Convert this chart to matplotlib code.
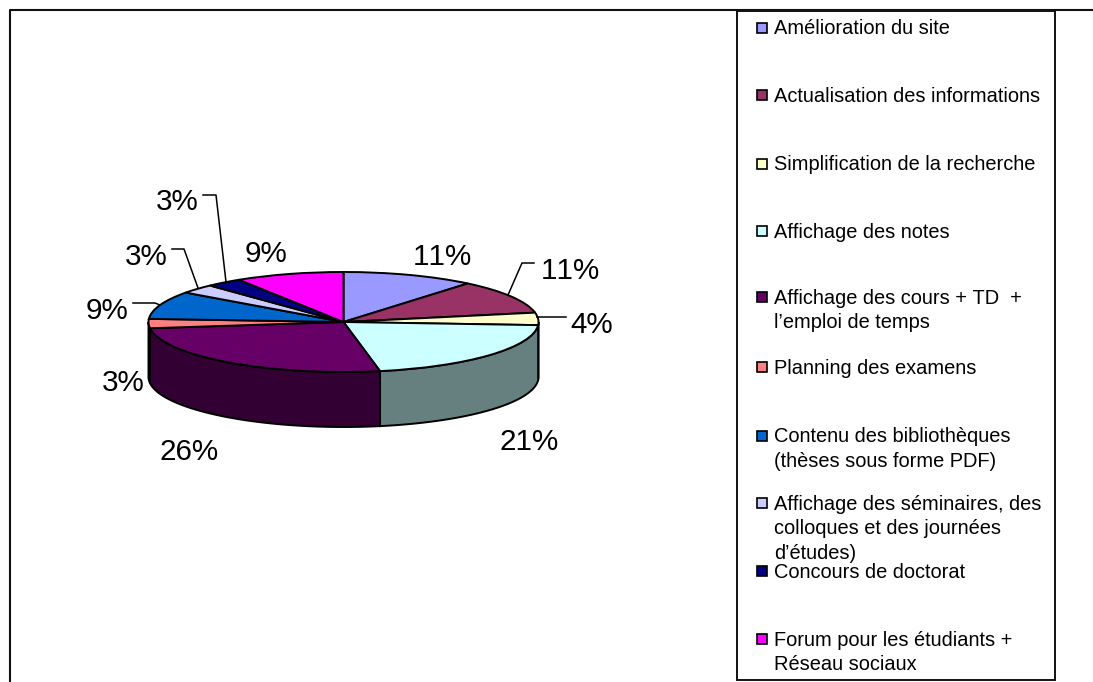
import numpy as np
import matplotlib
matplotlib.use('Agg')
import matplotlib.pyplot as plt
from matplotlib.patches import Rectangle

plt.rcParams['font.family'] = ['Liberation Sans', 'DejaVu Sans']
plt.rcParams['text.kerning_factor'] = 6

categories = [
    'Amélioration du site',
    'Actualisation des informations',
    'Simplification de la recherche',
    'Affichage des notes',
    'Affichage des cours + TD  +\nl’emploi de temps',
    'Planning des examens',
    'Contenu des bibliothèques\n(thèses sous forme PDF)',
    'Affichage des séminaires, des\ncolloques et des journées\nd’études)',
    'Concours de doctorat',
    'Forum pour les étudiants +\nRéseau sociaux',
]
values = [11, 11, 4, 21, 26, 3, 9, 3, 3, 9]
colors = ['#9999FF', '#993366', '#FFFFCC', '#CCFFFF', '#660066',
          '#FF8080', '#0066CC', '#CCCCFF', '#000080', '#FF00FF']

W, H = 1093, 682

# pixel positions of the pie top ellipse
left, right, top, bottom = 148.5, 538.5, 272, 372
depth = 55 / ((bottom - top) / 2)

fig = plt.figure(figsize=(W / 100, H / 100), dpi=100, facecolor='white')

ax = fig.add_axes([left / W, 1 - bottom / H, (right - left) / W, (bottom - top) / H])
wedges, _ = ax.pie(values, colors=colors, startangle=90, counterclock=False,
                   wedgeprops=dict(edgecolor='black', linewidth=1.4, clip_on=False))
ax.set_aspect('auto')
ax.set_xlim(-1, 1)
ax.set_ylim(-1, 1)
ax.axis('off')

# side wall of the pie, only the front half shows
for w, c in zip(wedges, colors):
    t = np.radians(np.linspace(w.theta1, w.theta2, 200))
    t = t[np.sin(t) <= 0]
    if len(t) < 2:
        continue
    xs = np.cos(t)
    ys = np.sin(t)
    rgb = np.array(matplotlib.colors.to_rgb(c)) * 0.5
    ax.fill(np.r_[xs, xs[::-1]], np.r_[ys, ys[::-1] - depth], facecolor=rgb,
            edgecolor='black', linewidth=1.4, clip_on=False, zorder=0.5)

# overlay in image pixels for frame, labels and legend
ov = fig.add_axes([0, 0, 1, 1], facecolor='none')
ov.set_xlim(0, W)
ov.set_ylim(H, 0)
ov.axis('off')

ov.plot([9.5, 9.5, W], [H, 10, 10], color='#111111', lw=1.5, clip_on=False)

# percent labels, same order as values, the 3% ones sit outside
label_pos = [(442, 257), (570, 271), (592, 325), (529, 442), (189, 452),
             (123, 383), (107, 311), (146, 257), (177, 202), (266, 254)]
for v, (x, y) in zip(values, label_pos):
    ov.text(x, y, f'{v}%', ha='center', va='center', fontsize=21.3, color='black')

leaders = [
    ([508, 522, 534], [295, 263, 263]),
    ([537, 566], [317, 317]),
    ([133, 155, 160], [303, 303, 305]),
    ([172, 184, 198], [249, 249, 288]),
    ([203, 216, 226], [195, 195, 282]),
]
for xs, ys in leaders:
    ov.plot(xs, ys, color='black', lw=1.1)

# legend
ov.add_patch(Rectangle((736.5, 11), 318.5, 669, facecolor='white', edgecolor='#111111', lw=1.4))
legend_y = [28, 95, 164, 231, 297, 367, 436, 503, 571, 639]
for name, c, y in zip(categories, colors, legend_y):
    ov.add_patch(Rectangle((757, y - 5), 10, 10, facecolor=c, edgecolor='black', lw=1.2))
    ov.text(774, y - 8.5, name, ha='left', va='top', fontsize=14.4, color='black',
            linespacing=1.38)

fig.savefig('out.png', dpi=100)
